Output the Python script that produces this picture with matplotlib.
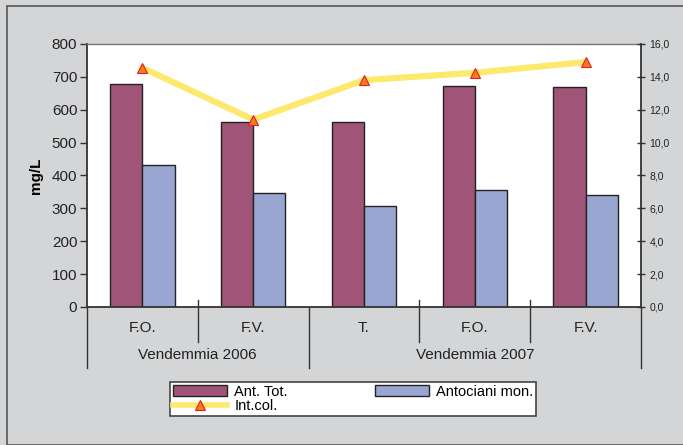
import matplotlib
matplotlib.use("Agg")
import matplotlib.pyplot as plt
from matplotlib.lines import Line2D
from matplotlib.patches import Patch, Rectangle
import numpy as np

plt.rcParams['font.family'] = ['Liberation Sans', 'DejaVu Sans']

categories = ["F.O.", "F.V.", "T.", "F.O.", "F.V."]
groups = ["Vendemmia 2006", "Vendemmia 2007"]
group_sizes = [2, 3]
ant_tot = [678, 562, 562, 673, 668]
antociani_mon = [433, 347, 307, 355, 342]
int_col = [14.55, 11.4, 13.8, 14.25, 14.9]
left_ticks = [0, 100, 200, 300, 400, 500, 600, 700, 800]
right_ticks = [0, 2, 4, 6, 8, 10, 12, 14, 16]

W, H = 683, 445
fig = plt.figure(figsize=(W/100, H/100), dpi=100)
fig.patch.set_facecolor('#d4d5d7')
fig.patches.append(Rectangle((7/W, 0), 1, 1 - 6/H, transform=fig.transFigure,
                             fill=False, edgecolor='#555555', linewidth=1.2))

x0, x1, ytop, ybot = 87, 641, 44, 307
ax = fig.add_axes([x0/W, 1 - ybot/H, (x1-x0)/W, (ybot-ytop)/H])
ax.set_facecolor('white')

n = len(categories)
x = np.arange(n)
bw = 0.29
ax.bar(x - bw/2, ant_tot, width=bw, color='#a05478', edgecolor='#222222', linewidth=1.0, zorder=2)
ax.bar(x + bw/2, antociani_mon, width=bw, color='#99a6d2', edgecolor='#222222', linewidth=1.0, zorder=2)
ax.set_xlim(-0.5, n - 0.5)
ax.set_ylim(0, 800)
ax.set_yticks(left_ticks)
ax.set_yticklabels([str(v) for v in left_ticks], fontsize=11, color='#222222')
ax.set_xticks([])
ax.tick_params(axis='y', direction='out', length=5, width=1, color='#333333', pad=2)
ax.set_ylabel("mg/L", fontsize=11, fontweight='bold', labelpad=6)
for s in ['left', 'bottom']:
    ax.spines[s].set_color('#333333')
    ax.spines[s].set_linewidth(1.3)
ax.spines['top'].set_color('#777777')
ax.spines['top'].set_linewidth(1.0)
ax.spines['right'].set_visible(False)

ax2 = ax.twinx()
ax2.plot(x, int_col, color='#fde96e', linewidth=4.5, zorder=3, solid_capstyle='butt')
ax2.plot(x, int_col, linestyle='none', marker='^', markersize=7,
         markerfacecolor='#f47a20', markeredgecolor='#e02020', markeredgewidth=0.8, zorder=4)
ax2.set_ylim(0, 16)
ax2.set_yticks(right_ticks)
ax2.set_yticklabels([f"{v:.1f}".replace('.', ',') for v in right_ticks], fontsize=7.5, color='#222222')
ax2.tick_params(axis='y', direction='inout', length=6, width=1, color='#333333', pad=3)
ax2.spines['right'].set_color('#333333')
ax2.spines['right'].set_linewidth(1.3)
for s in ['left', 'top', 'bottom']:
    ax2.spines[s].set_visible(False)

# category axis below
ax_h = ybot - ytop
def ax_y(py):
    return (ybot - py) / ax_h

for i in range(n + 1):
    xa = i / n
    is_group = i in (0, n) or i == group_sizes[0]
    yend = 368 if is_group else 342
    ystart = 300 if not is_group else 307
    ax.add_line(Line2D([xa, xa], [ax_y(ystart), ax_y(yend)], transform=ax.transAxes,
                       color='#333333', linewidth=1.0, clip_on=False))
for i, c in enumerate(categories):
    ax.text((i + 0.5)/n, ax_y(328), c, transform=ax.transAxes, ha='center', va='center',
            fontsize=11, color='#222222')
start = 0
for g, sz in zip(groups, group_sizes):
    ax.text((start + sz/2)/n, ax_y(355), g, transform=ax.transAxes, ha='center', va='center',
            fontsize=11, color='#222222')
    start += sz

handles = [Patch(facecolor='#a05478', edgecolor='#222222', linewidth=1.0),
           Line2D([], [], color='#fde96e', linewidth=4, marker='^', markersize=7,
                  markerfacecolor='#f47a20', markeredgecolor='#e02020', markeredgewidth=0.8),
           Patch(facecolor='#99a6d2', edgecolor='#222222', linewidth=1.0)]
labels = ["Ant. Tot.", "Int.col.", "Antociani mon."]
leg = fig.legend(handles, labels, ncol=2, loc='upper left',
                 bbox_to_anchor=(170/W, 1 - 382/H), fontsize=10.5, frameon=True,
                 fancybox=False, edgecolor='#444444', facecolor='white', framealpha=1,
                 handlelength=3.7, handleheight=0.8,
                 labelspacing=0.0, columnspacing=6.0, borderpad=0.2, borderaxespad=0,
                 handletextpad=0.5)
leg.get_frame().set_linewidth(1.2)

fig.savefig("out.png", dpi=100, facecolor=fig.get_facecolor())
